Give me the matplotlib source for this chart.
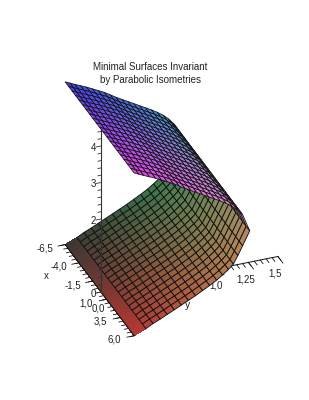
import numpy as np
import matplotlib
matplotlib.use("Agg")
import matplotlib.pyplot as plt
from matplotlib.colors import Normalize
from mpl_toolkits.mplot3d import proj3d

plt.rcParams['font.family'] = ['Liberation Sans', 'DejaVu Sans']

title_lines = ["Minimal Surfaces Invariant", "by Parabolic Isometries"]
x_grid = [-6.5, -5.875, -5.25, -4.625, -4.0, -3.375, -2.75, -2.125, -1.5, -0.875, -0.25,
          0.375, 1.0, 1.625, 2.25, 2.875, 3.5, 4.125, 4.75, 5.375, 6.0]
# profile of the surface
lower_y = [0, .10, .16, .22, .28, .34, .40, .46, .52, .58, .64, .70, .75, .80, .842, .88, .92, .98]
lower_z = [0, .13, .23, .31, .40, .49, .58, .67, .76, .86, .96, 1.07, 1.18, 1.30, 1.42, 1.63, 1.87, 2.24]
upper_y = [.98, .92, .875, .83, .78, .73, .68, .63, .58, .53, .48, .43, .38, .33,
           .28, .23, .18, .13, .08, .04, 0]
upper_z = [2.24, 2.72, 2.88, 3.01, 3.12, 3.22, 3.31, 3.40, 3.49, 3.58, 3.67, 3.76,
           3.86, 3.96, 4.04, 4.12, 4.20, 4.27, 4.34, 4.40, 4.46]
x_major = [-6.5, -4.0, -1.5, 1.0, 3.5, 6.0]
x_major_labels = ["-6,5", "-4,0", "-1,5", "1,0", "3,5", "6,0"]
x_minor = [-6.5, -6.0, -5.5, -5.0, -4.5, -4.0, -3.5, -3.0, -2.5, -2.0, -1.5, -1.0, -0.5,
           0.0, 0.5, 1.0, 1.5, 2.0, 2.5, 3.0, 3.5, 4.0, 4.5, 5.0, 5.5, 6.0]
y_major = [0.0, 0.25, 0.5, 0.75, 1.0, 1.25, 1.5]
y_major_labels = ["0,0", "", "", "", "1,0", "1,25", "1,5"]
y_minor = [0.0, 0.05, 0.1, 0.15, 0.2, 0.25, 0.3, 0.35, 0.4, 0.45, 0.5, 0.55, 0.6, 0.65, 0.7, 0.75,
           0.8, 0.85, 0.9, 0.95, 1.0, 1.05, 1.1, 1.15, 1.2, 1.25, 1.3, 1.35, 1.4, 1.45, 1.5]
z_major = [0, 1, 2, 3, 4]
z_major_labels = ["0", "", "2", "3", "4"]
z_minor = [0.2, 0.4, 0.6, 0.8, 1.2, 1.4, 1.6, 1.8, 2.2, 2.4, 2.6, 2.8, 3.2, 3.4, 3.6, 3.8, 4.2, 4.4]
x_range = (-6.5, 6.0)
y_range = (0.0, 1.5)
z_range = (0.0, 4.46)

W, H = 309, 400
fig = plt.figure(figsize=(W / 100, H / 100), dpi=100)
side = W / H
ax = fig.add_axes([0, (1 - side) / 2, 1, side], projection='3d', computed_zorder=False,
                  proj_type='ortho')
ax.view_init(elev=31, azim=-21.3)
ax.set_xlim(*x_range, view_margin=0)
ax.set_ylim(*y_range, view_margin=0)
ax.set_zlim(*z_range, view_margin=0)
ax.set_axis_off()


def px(x, y, z):
    fig.canvas.draw()
    a, b, _ = proj3d.proj_transform(x, y, z, ax.get_proj())
    return ax.transData.transform((a, b))


# fit the cube to the reference: z unit = 36.5 px, origin at (101, 292)
zoom = 1.0
for _ in range(2):
    ax.set_box_aspect((1, 1, 1), zoom=zoom)
    zoom *= 36.5 / (px(0, 0, 1)[1] - px(0, 0, 0)[1])
ax.set_box_aspect((1, 1, 1), zoom=zoom)
o = px(0, 0, 0)
pos = ax.get_position()
ax.set_position([pos.x0 + (101 - o[0]) / W, pos.y0 + ((H - 292) - o[1]) / H, pos.width, pos.height])


def label(x, y, z, s, size=7, zorder=6):
    """Text placed through the 3D projection, with a real 2D anchor."""
    if not s:
        return
    a, b, _ = proj3d.proj_transform(x, y, z, ax.get_proj())
    ax.text2D(a, b, s, transform=ax.transData, fontsize=size, ha='center', va='center',
              color='#222222', zorder=zorder)


def sheet(ys, zs, brange, g=(.22, .55), r=(.24, .72)):
    X, T = np.meshgrid(x_grid, np.arange(len(ys)))
    Y = np.asarray(ys, float)[T]
    Z = np.asarray(zs, float)[T]
    rn = Normalize(*x_range)(X)
    gn = Normalize(0, .98)(Y)
    bn = Normalize(min(zs), max(zs))(Z)
    col = np.dstack([r[0] + (r[1] - r[0]) * rn,
                     g[0] + (g[1] - g[0]) * gn,
                     brange[0] + (brange[1] - brange[0]) * bn,
                     np.ones_like(rn)])
    return X, Y, Z, np.clip(col, 0, 1)


LW = 0.65
INK = '#111111'
# y axis goes beneath the surface
ax.plot([0, 0], y_range, [0, 0], color=INK, lw=.7, zorder=1)
for v in y_minor:
    ax.plot([0, .5], [v, v], [0, 0], color=INK, lw=.6, zorder=1)
for v, s in zip(y_major, y_major_labels):
    ax.plot([0, .9], [v, v], [0, 0], color=INK, lw=.6, zorder=1)
    label(1.95, v - .115, 0, s, zorder=1)

# lower sheet: wide unmeshed first band, then the meshed part
X, Y, Z, C = sheet(lower_y, lower_z, (.20, .40))
ax.plot_surface(X[:2], Y[:2], Z[:2], facecolors=C[:2], rstride=1, cstride=1, shade=False,
                linewidth=0, antialiased=False, zorder=2)
ax.plot_surface(X[1:], Y[1:], Z[1:], facecolors=C[1:], rstride=1, cstride=1, shade=False,
                edgecolor=INK, linewidth=LW, zorder=3)

# x and z axes
ax.plot(x_range, [0, 0], [0, 0], color=INK, lw=.7, zorder=4)
for v in x_minor:
    ax.plot([v, v], [0, -.035], [0, 0], color=INK, lw=.6, zorder=4)
for v, s in zip(x_major, x_major_labels):
    ax.plot([v, v], [0, -.06], [0, 0], color=INK, lw=.6, zorder=4)
    label(v, -.17, 0, s)
ax.plot([0, 0], [0, 0], z_range, color='#333333', lw=.8, zorder=4)
for v in z_minor:
    ax.plot([0, 0], [0, -.026], [v, v], color='#333333', lw=.6, zorder=4)
for v, s in zip(z_major, z_major_labels):
    ax.plot([0, 0], [0, -.042], [v, v], color='#333333', lw=.6, zorder=4)
    label(0, -.067, v, s)

# upper sheet
X, Y, Z, C = sheet(upper_y, upper_z, (.74, .93), g=(.24, .60), r=(.27, .90))
ax.plot_surface(X, Y, Z, facecolors=C, rstride=1, cstride=1, shade=False,
                edgecolor=INK, linewidth=.55, zorder=5)

label(-3.25, -.308, 0, "x")
label(3.57, .57, 0, "y", size=7.5)
fig.text(150 / W, 1 - 67.5 / H, title_lines[0], fontsize=7, ha='center', va='center', color='#222222')
fig.text(150 / W, 1 - 80 / H, title_lines[1], fontsize=7, ha='center', va='center', color='#222222')

fig.savefig("out.png", dpi=100, facecolor='white')
